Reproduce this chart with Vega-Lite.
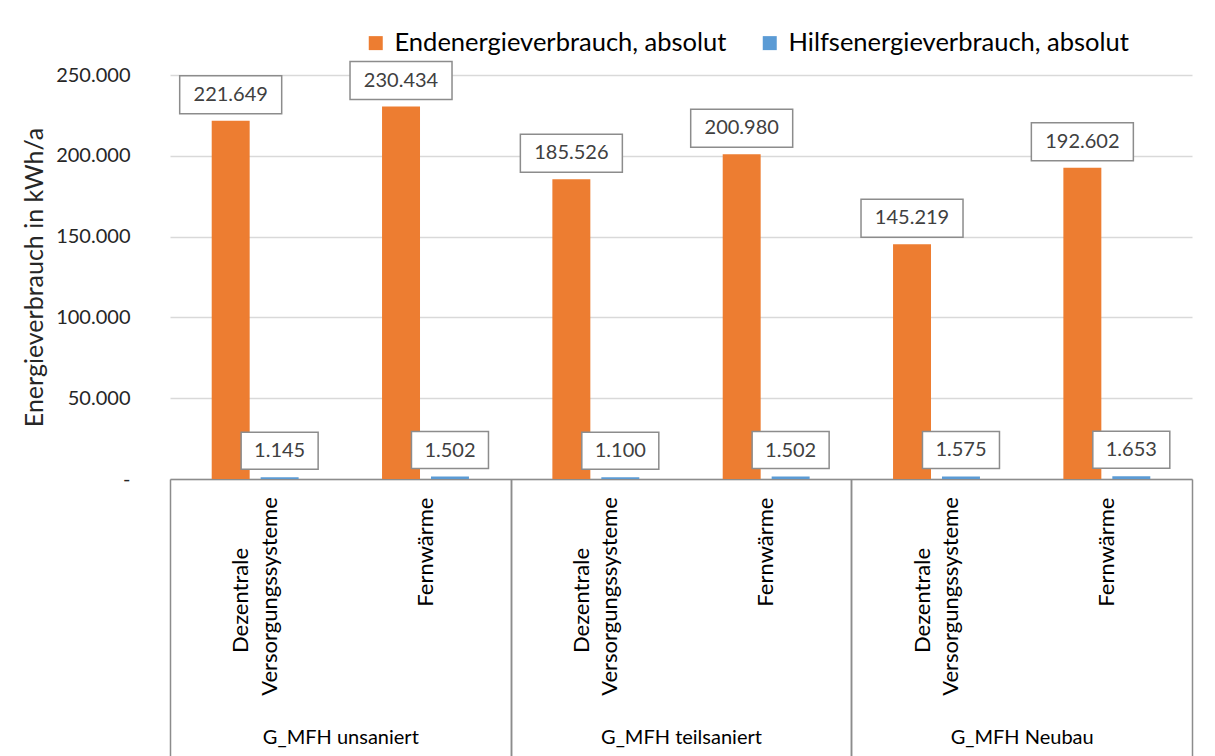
{
  "$schema": "https://vega.github.io/schema/vega-lite/v6.json",
  "autosize": {"type": "none"},
  "padding": {"left": 170, "top": 75, "right": 23, "bottom": 277},
  "width": 1022,
  "height": 404,
  "background": "white",
  "data": {
    "values": [
      {"kategorie": "G_MFH unsaniert|Dezentrale Versorgungssysteme", "serie": "Endenergieverbrauch, absolut", "wert": 221649},
      {"kategorie": "G_MFH unsaniert|Dezentrale Versorgungssysteme", "serie": "Hilfsenergieverbrauch, absolut", "wert": 1145},
      {"kategorie": "G_MFH unsaniert|Fernwärme", "serie": "Endenergieverbrauch, absolut", "wert": 230434},
      {"kategorie": "G_MFH unsaniert|Fernwärme", "serie": "Hilfsenergieverbrauch, absolut", "wert": 1502},
      {"kategorie": "G_MFH teilsaniert|Dezentrale Versorgungssysteme", "serie": "Endenergieverbrauch, absolut", "wert": 185526},
      {"kategorie": "G_MFH teilsaniert|Dezentrale Versorgungssysteme", "serie": "Hilfsenergieverbrauch, absolut", "wert": 1100},
      {"kategorie": "G_MFH teilsaniert|Fernwärme", "serie": "Endenergieverbrauch, absolut", "wert": 200980},
      {"kategorie": "G_MFH teilsaniert|Fernwärme", "serie": "Hilfsenergieverbrauch, absolut", "wert": 1502},
      {"kategorie": "G_MFH Neubau|Dezentrale Versorgungssysteme", "serie": "Endenergieverbrauch, absolut", "wert": 145219},
      {"kategorie": "G_MFH Neubau|Dezentrale Versorgungssysteme", "serie": "Hilfsenergieverbrauch, absolut", "wert": 1575},
      {"kategorie": "G_MFH Neubau|Fernwärme", "serie": "Endenergieverbrauch, absolut", "wert": 192602},
      {"kategorie": "G_MFH Neubau|Fernwärme", "serie": "Hilfsenergieverbrauch, absolut", "wert": 1653}
    ]
  },
  "encoding": {
    "y": {
      "field": "wert",
      "type": "quantitative",
      "scale": {"domain": [0, 250000], "nice": false},
      "axis": {
        "title": "Energieverbrauch in kWh/a",
        "values": [0, 50000, 100000, 150000, 200000, 250000],
        "format": ",.0f",
        "labelExpr": "datum.value === 0 ? '-   ' : datum.label",
        "domain": false,
        "ticks": false,
        "grid": true,
        "gridColor": "#D9D9D9",
        "gridWidth": 1.5,
        "labelPadding": 40,
        "labelFontSize": 20,
        "labelColor": "#262626",
        "titleFontSize": 25,
        "titleFontWeight": "normal",
        "titleColor": "#262626",
        "titlePadding": 8
      }
    }
  },
  "layer": [
    {
      "mark": {"type": "bar"},
      "encoding": {
        "x": {
          "field": "kategorie",
          "type": "nominal",
          "sort": null,
          "scale": {"paddingInner": 0, "paddingOuter": 0},
          "axis": {
            "orient": "bottom",
            "title": null,
            "domain": true,
            "domainColor": "#8C8C8C",
            "domainWidth": 1.5,
            "ticks": false,
            "values": ["G_MFH unsaniert|Fernwärme", "G_MFH teilsaniert|Fernwärme", "G_MFH Neubau|Fernwärme"],
            "labelExpr": "'Fernwärme'",
            "labelAngle": -90,
            "labelAlign": "right",
            "labelBaseline": "middle",
            "labelPadding": 18,
            "labelFontSize": 22,
            "labelColor": "#000000",
            "labelLimit": 0,
            "labelOverlap": false
          }
        },
        "xOffset": {
          "field": "serie",
          "type": "nominal",
          "scale": {"paddingInner": 0.2245, "paddingOuter": 0.852}
        },
        "color": {
          "field": "serie",
          "type": "nominal",
          "scale": {
            "domain": ["Endenergieverbrauch, absolut", "Hilfsenergieverbrauch, absolut"],
            "range": ["#ED7D31", "#5B9BD5"]
          },
          "legend": {
            "title": null,
            "orient": "none",
            "legendX": 193,
            "legendY": -45,
            "direction": "horizontal",
            "symbolType": "square",
            "symbolSize": 196,
            "symbolStrokeWidth": 0,
            "labelFontSize": 25.5,
            "labelColor": "#000000",
            "labelOffset": 6,
            "columnPadding": 30,
            "labelLimit": 0
          }
        }
      }
    },
    {
      "transform": [{"filter": "datum.serie === 'Endenergieverbrauch, absolut'"}],
      "mark": {"type": "bar", "width": 102, "fill": "white", "stroke": "#8C8C8C", "strokeWidth": 1.5, "yOffset": -45, "y2Offset": -7},
      "encoding": {
        "x": {
          "field": "kategorie",
          "type": "nominal",
          "sort": null,
          "axis": {
            "orient": "bottom",
            "title": null,
            "domain": false,
            "ticks": true,
            "tickSize": 277,
            "tickColor": "#8C8C8C",
            "tickWidth": 1.5,
            "tickOffset": 85.17,
            "values": ["G_MFH unsaniert|Fernwärme", "G_MFH teilsaniert|Fernwärme", "G_MFH Neubau|Fernwärme"],
            "labelExpr": "slice(datum.value, 0, indexof(datum.value, '|'))",
            "labelOffset": -170.33,
            "labelAngle": 0,
            "labelAlign": "center",
            "labelBaseline": "top",
            "labelPadding": -29,
            "labelFontSize": 20,
            "labelColor": "#000000",
            "labelLimit": 0,
            "labelOverlap": false
          }
        },
        "xOffset": {"field": "serie", "type": "nominal"},
        "y2": {"field": "wert"}
      }
    },
    {
      "transform": [{"filter": "datum.serie === 'Hilfsenergieverbrauch, absolut'"}],
      "mark": {"type": "bar", "width": 77, "fill": "white", "stroke": "#8C8C8C", "strokeWidth": 1.5, "yOffset": -45, "y2Offset": -8},
      "encoding": {
        "x": {
          "field": "kategorie",
          "type": "nominal",
          "sort": null,
          "axis": {
            "orient": "bottom",
            "title": null,
            "domain": false,
            "ticks": true,
            "tickSize": 277,
            "tickColor": "#8C8C8C",
            "tickWidth": 1.5,
            "tickOffset": -85.17,
            "values": ["G_MFH unsaniert|Dezentrale Versorgungssysteme", "G_MFH teilsaniert|Dezentrale Versorgungssysteme", "G_MFH Neubau|Dezentrale Versorgungssysteme"],
            "labelExpr": "'Dezentrale'",
            "labelOffset": 70.67,
            "labelAngle": -90,
            "labelAlign": "center",
            "labelBaseline": "middle",
            "labelPadding": -156,
            "labelFontSize": 22,
            "labelColor": "#000000",
            "labelLimit": 0,
            "labelOverlap": false
          }
        },
        "xOffset": {"field": "serie", "type": "nominal"},
        "y2": {"field": "wert"}
      }
    },
    {
      "mark": {"type": "text", "dy": -26, "baseline": "middle", "fontSize": 20, "color": "#404040"},
      "encoding": {
        "x": {
          "field": "kategorie",
          "type": "nominal",
          "sort": null,
          "axis": {
            "orient": "bottom",
            "title": null,
            "domain": false,
            "ticks": false,
            "values": ["G_MFH unsaniert|Dezentrale Versorgungssysteme", "G_MFH teilsaniert|Dezentrale Versorgungssysteme", "G_MFH Neubau|Dezentrale Versorgungssysteme"],
            "labelExpr": "'Versorgungssysteme'",
            "labelOffset": 14.5,
            "labelAngle": -90,
            "labelAlign": "center",
            "labelBaseline": "middle",
            "labelPadding": 117,
            "labelFontSize": 22,
            "labelColor": "#000000",
            "labelLimit": 0,
            "labelOverlap": false
          }
        },
        "xOffset": {"field": "serie", "type": "nominal"},
        "text": {"field": "wert", "type": "quantitative", "format": ",.0f"}
      }
    }
  ],
  "resolve": {"axis": {"x": "independent"}},
  "config": {
    "font": "Lato",
    "view": {"stroke": null},
    "locale": {"number": {"decimal": ",", "thousands": ".", "grouping": [3], "currency": ["", " €"]}}
  }
}
